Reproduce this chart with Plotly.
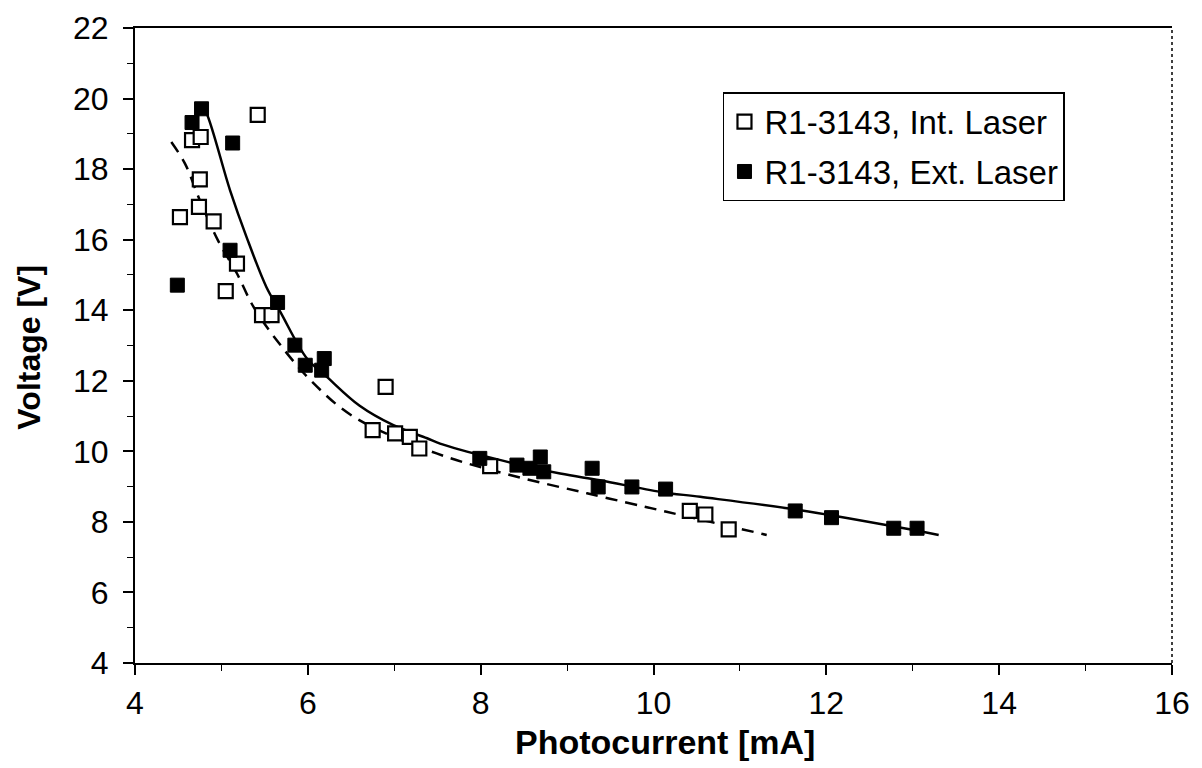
import plotly.graph_objects as go

# Data
int_x = [4.52, 4.66, 4.76, 4.75, 4.74, 4.91, 5.05, 5.18, 5.42, 5.47, 5.58,
         6.75, 6.90, 7.01, 7.18, 7.29, 8.11, 10.42, 10.60, 10.87]
int_y = [16.64, 18.82, 18.91, 17.71, 16.93, 16.52, 14.54, 15.32, 19.54, 13.86, 13.86,
         10.60, 11.83, 10.51, 10.41, 10.08, 9.58, 8.31, 8.21, 7.79]

ext_x = [4.49, 4.66, 4.77, 5.10, 5.13, 5.65, 5.85, 5.97, 6.16, 6.19, 7.99, 8.42,
         8.57, 8.69, 8.73, 9.29, 9.36, 9.75, 10.14, 11.64, 12.06, 12.78, 13.05]
ext_y = [14.71, 19.32, 19.71, 15.70, 18.74, 14.22, 13.01, 12.44, 12.30, 12.63, 9.80, 9.61,
         9.52, 9.84, 9.42, 9.52, 8.99, 8.99, 8.93, 8.31, 8.12, 7.82, 7.82]

fit_ext_x = [4.77, 4.83, 5.10, 5.29, 5.52, 5.68, 5.99, 6.22, 6.60, 6.99, 7.38, 7.53,
             8.15, 8.92, 9.38, 10.08, 10.54, 11.70, 12.85, 13.30]
fit_ext_y = [19.80, 19.57, 17.40, 16.08, 14.66, 13.96, 12.63, 12.11, 11.29, 10.74, 10.37, 10.22,
             9.80, 9.37, 9.18, 8.85, 8.71, 8.33, 7.84, 7.63]

fit_int_x = [4.42, 4.58, 4.75, 4.96, 5.18, 5.37, 5.64, 6.03, 6.53, 7.49, 8.34, 9.23,
             10.04, 10.27, 11.31]
fit_int_y = [18.77, 18.15, 17.12, 15.98, 15.04, 14.10, 13.15, 12.02, 10.98, 9.94, 9.33, 8.81,
             8.35, 8.22, 7.63]

names = ["R1-3143, Int. Laser", "R1-3143, Ext. Laser"]
x_ticks = [4, 6, 8, 10, 12, 14, 16]
y_ticks = [4, 6, 8, 10, 12, 14, 16, 18, 20, 22]
x_title = "Photocurrent [mA]"
y_title = "Voltage [V]"

FONT = "Liberation Sans, Arial, sans-serif"

fig = go.Figure()
fig.add_trace(go.Scatter(x=fit_int_x, y=fit_int_y, mode="lines", line_shape="spline",
                         line=dict(color="black", width=2.5, dash="12px,8px"),
                         showlegend=False, hoverinfo="skip"))
fig.add_trace(go.Scatter(x=fit_ext_x, y=fit_ext_y, mode="lines", line_shape="spline",
                         line=dict(color="black", width=2.5),
                         showlegend=False, hoverinfo="skip"))
fig.add_trace(go.Scatter(x=int_x, y=int_y, mode="markers", name=names[0], legendgroup="a",
                         marker=dict(symbol="square", size=14, color="white",
                                     line=dict(color="black", width=2.2))))
fig.add_trace(go.Scatter(x=ext_x, y=ext_y, mode="markers", name=names[1], legendgroup="b",
                         marker=dict(symbol="square", size=14, color="black",
                                     line=dict(color="black", width=1))))

axis_common = dict(showgrid=False, zeroline=False, linecolor="black", linewidth=2,
                   tickcolor="black", tickwidth=1.5, ticks="outside", ticklen=10,
                   automargin=False,
                   tickfont=dict(family=FONT, size=32, color="black"))

# page body has an 8px margin, so the figure is made 8px smaller on left/top
fig.update_layout(
    width=1194, height=760,
    margin=dict(l=127, r=30, t=20, b=105),
    paper_bgcolor="white", plot_bgcolor="white",
    font=dict(family=FONT, color="black"),
    xaxis=dict(range=[4, 16], tickvals=x_ticks, mirror=True,
               minor=dict(dtick=1, ticks="outside", ticklen=6, tickcolor="black", tickwidth=1),
               ticklabelstandoff=1,
               **axis_common),
    yaxis=dict(range=[4, 22], tickvals=y_ticks,
               minor=dict(dtick=1, ticks="outside", ticklen=6, tickcolor="black", tickwidth=1),
               ticklabelstandoff=8,
               **axis_common),
    xaxis2=dict(range=[4, 16], tickvals=x_ticks, overlaying="x", anchor="y", side="bottom",
                ticks="inside", ticklen=8, tickcolor="black", tickwidth=1.5, automargin=False,
                showticklabels=False, showline=False, showgrid=False, zeroline=False),
    yaxis2=dict(range=[4, 22], tickvals=y_ticks, overlaying="y", anchor="x", side="left",
                ticks="inside", ticklen=8, tickcolor="black", tickwidth=1.5, automargin=False,
                showticklabels=False, showline=False, showgrid=False, zeroline=False),
    legend=dict(x=0.567, y=0.899, xanchor="left", yanchor="top",
                bgcolor="white", bordercolor="black", borderwidth=1.5,
                font=dict(family=FONT, size=33, color="black"),
                tracegroupgap=4),
    shapes=[dict(type="line", xref="paper", yref="paper", x0=1, x1=1, y0=0, y1=1,
                 line=dict(color="black", width=1.5, dash="dot"))],
    annotations=[
        dict(text="<b>" + x_title + "</b>", xref="paper", yref="paper",
             x=0.511, y=-0.1245, xanchor="center", yanchor="middle", showarrow=False,
             font=dict(family=FONT, size=34, color="black")),
        dict(text="<b>" + y_title + "</b>", xref="paper", yref="paper",
             x=-0.102, y=0.497, xanchor="center", yanchor="middle", showarrow=False,
             textangle=-90, font=dict(family=FONT, size=32, color="black")),
    ],
)

fig.write_html("out.html")
